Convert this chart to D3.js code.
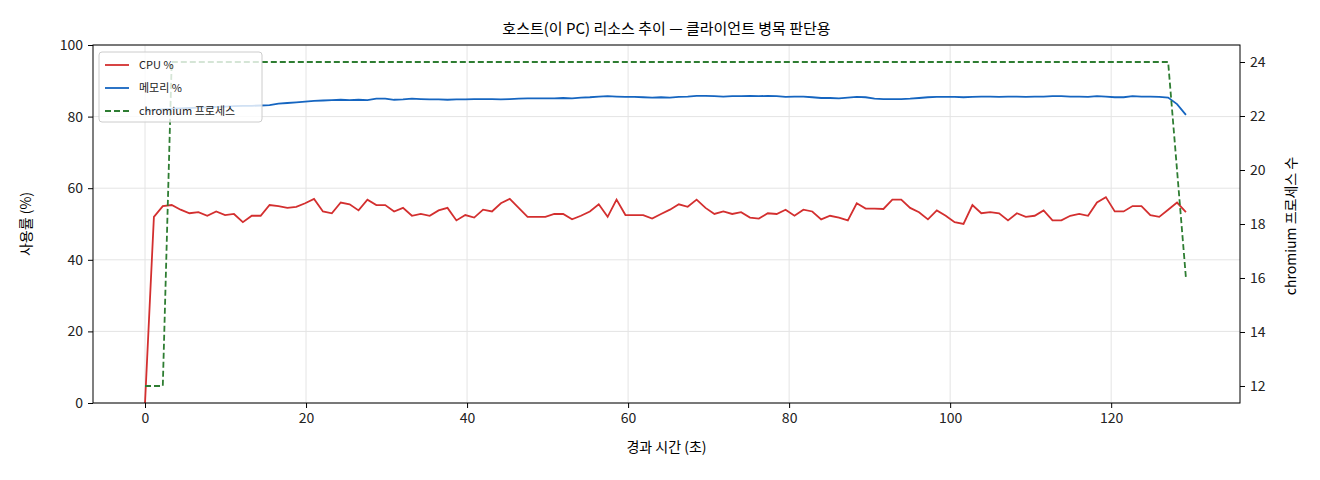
<!DOCTYPE html>
<html><head><meta charset="utf-8">
<script src="https://cdn.jsdelivr.net/npm/d3@7"></script>
<style>body{margin:0;background:#fff}text{font-family:"Noto Sans CJK KR","Noto Sans",sans-serif}</style>
</head><body><svg id="chart" width="1320" height="480"></svg>
<script>
// sample step in seconds
const STEP = 1.105;
const cpu = [0,52,55,55.3,54,53,53.3,52.3,53.5,52.5,52.8,50.5,52.3,52.3,55.3,55,54.5,54.8,55.8,57,53.5,53,56,55.5,53.8,56.8,55.3,55.3,53.5,54.5,52.3,52.8,52.3,53.8,54.5,51,52.5,51.8,54,53.5,55.8,57,54.5,52,52,52,52.8,52.8,51.3,52.3,53.5,55.5,52,56.8,52.5,52.5,52.5,51.5,52.8,54,55.5,54.8,56.8,54.5,52.8,53.5,52.8,53.3,51.8,51.5,53,52.8,54,52.3,54,53.5,51.3,52.3,51.8,51,55.8,54.3,54.3,54.2,56.8,56.8,54.5,53.3,51.3,53.8,52.3,50.5,50,55.3,53,53.3,53,51,53,52,52.3,53.8,51,51,52.3,52.8,52.3,56,57.5,53.5,53.5,55,55,52.5,52,54,56,53.3];
const mem = [81.5,81.8,82,82.2,82.3,82.4,82.5,82.6,82.7,82.8,82.9,83,83,83.1,83.2,83.6,83.8,84,84.2,84.4,84.5,84.6,84.7,84.6,84.7,84.6,85,85,84.7,84.8,85,84.9,84.8,84.8,84.7,84.8,84.8,84.9,84.9,84.9,84.8,84.9,85,85.1,85.1,85.1,85.1,85.2,85.1,85.3,85.4,85.6,85.7,85.6,85.5,85.5,85.4,85.3,85.4,85.3,85.5,85.6,85.8,85.8,85.7,85.6,85.7,85.7,85.8,85.7,85.8,85.7,85.5,85.6,85.6,85.4,85.2,85.2,85.1,85.3,85.5,85.4,85,84.9,84.9,84.9,85,85.2,85.4,85.5,85.5,85.5,85.4,85.5,85.6,85.6,85.5,85.6,85.6,85.5,85.6,85.6,85.7,85.7,85.6,85.6,85.5,85.7,85.6,85.4,85.4,85.7,85.6,85.6,85.5,85.3,83.5,80.5];
const procs = [12,12,12].concat(Array(113).fill(24)).concat([20,16]);
const title = "호스트(이 PC) 리소스 추이 — 클라이언트 병목 판단용";

const svg = d3.select("#chart");
const M = {l:93, r:1240, t:45, b:403};
const x = d3.scaleLinear().domain([-6.46, 136]).range([M.l, M.r]);
const y = d3.scaleLinear().domain([0, 100]).range([M.b, M.t]);
const y2 = d3.scaleLinear().domain([11.37, 24.63]).range([M.b, M.t]);
const tx = i => x(i * STEP);

// grid
const g = svg.append("g");
g.selectAll(".gx").data([0,20,40,60,80,100,120]).enter().append("line")
  .attr("x1", d => x(d)).attr("x2", d => x(d)).attr("y1", M.t).attr("y2", M.b)
  .attr("stroke", "#e4e4e4");
g.selectAll(".gy").data([0,20,40,60,80,100]).enter().append("line")
  .attr("y1", d => y(d)).attr("y2", d => y(d)).attr("x1", M.l).attr("x2", M.r)
  .attr("stroke", "#e4e4e4");

const line = (arr, sc) => d3.line().x((d, i) => tx(i)).y(d => sc(d))(arr);
svg.append("path").attr("d", line(cpu, y)).attr("fill", "none").attr("stroke", "#d32f2f").attr("stroke-width", 1.8);
svg.append("path").attr("d", line(mem, y)).attr("fill", "none").attr("stroke", "#1565c0").attr("stroke-width", 1.8);
svg.append("path").attr("d", line(procs, y2)).attr("fill", "none").attr("stroke", "#2e7d32").attr("stroke-width", 1.8).attr("stroke-dasharray", "6,3");

svg.append("rect").attr("x", M.l).attr("y", M.t).attr("width", M.r - M.l).attr("height", M.b - M.t)
  .attr("fill", "none").attr("stroke", "#000").attr("stroke-width", 1);

const ax = svg.append("g").attr("transform", `translate(0,${M.b})`)
  .call(d3.axisBottom(x).tickValues([0,20,40,60,80,100,120]).tickSize(5).tickPadding(5));
const ay = svg.append("g").attr("transform", `translate(${M.l},0)`)
  .call(d3.axisLeft(y).tickValues([0,20,40,60,80,100]).tickSize(5).tickPadding(5));
const ay2 = svg.append("g").attr("transform", `translate(${M.r},0)`)
  .call(d3.axisRight(y2).tickValues([12,14,16,18,20,22,24]).tickSize(5).tickPadding(5));
[ax, ay, ay2].forEach(a => { a.select(".domain").remove(); a.selectAll("text").attr("font-size", 14).attr("fill", "#222"); });

svg.append("text").attr("x", (M.l + M.r) / 2).attr("y", 34).attr("text-anchor", "middle").attr("font-size", 15).text(title);
svg.append("text").attr("x", (M.l + M.r) / 2).attr("y", 452).attr("text-anchor", "middle").attr("font-size", 14).text("경과 시간 (초)");
svg.append("text").attr("transform", `translate(31,${(M.t + M.b) / 2}) rotate(-90)`).attr("text-anchor", "middle").attr("font-size", 14).text("사용률 (%)");
svg.append("text").attr("transform", `translate(1296,${(M.t + M.b) / 2 + 2}) rotate(-90)`).attr("text-anchor", "middle").attr("font-size", 14).text("chromium 프로세스 수");

// legend
const lg = svg.append("g").attr("transform", "translate(99,52)");
lg.append("rect").attr("width", 163).attr("height", 70).attr("rx", 3).attr("fill", "#fff").attr("fill-opacity", 0.8).attr("stroke", "#ccc");
const items = [["CPU %", "#d32f2f", null], ["메모리 %", "#1565c0", null], ["chromium 프로세스", "#2e7d32", "6,3"]];
items.forEach((it, i) => {
  const yy = 13 + i * 23;
  lg.append("line").attr("x1", 6).attr("x2", 30).attr("y1", yy).attr("y2", yy).attr("stroke", it[1]).attr("stroke-width", 1.8).attr("stroke-dasharray", it[2]);
  lg.append("text").attr("x", 40).attr("y", yy + 4).attr("font-size", 11).attr("fill", "#222").text(it[0]);
});
</script></body></html>
